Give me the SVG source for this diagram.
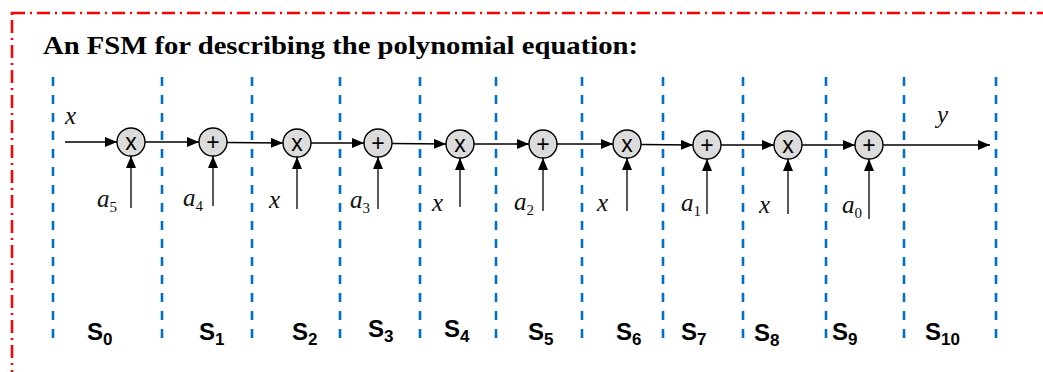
<svg xmlns="http://www.w3.org/2000/svg" width="1043" height="372" viewBox="0 0 1043 372">
<style>
.border{fill:none;stroke:#FF0000;stroke-width:2.5;stroke-dasharray:13 5 2 5}
.sep{stroke:#0070C0;stroke-width:2.6;stroke-dasharray:9 9}
.op{fill:#DCDCDC;stroke:#000;stroke-width:1.4}
.sym{font-family:"Liberation Sans",Arial,sans-serif;font-size:23px;text-anchor:middle;fill:#000}
.wire{stroke:#000;stroke-width:1.3;fill:none}
.var{font-family:"Liberation Serif","Times New Roman",serif;font-style:italic;font-size:25px;fill:#111}
.sub{font-size:15px;font-style:normal}
.st{font-family:"Liberation Sans",Arial,sans-serif;font-weight:bold;font-size:24px;fill:#000}
.stsub{font-size:17px}
.title{font-family:"Liberation Serif","Times New Roman",serif;font-weight:bold;font-size:25px;fill:#000}
</style>
<defs>
<marker id="ah" viewBox="0 0 12 10" refX="12" refY="5" markerWidth="12" markerHeight="10" markerUnits="userSpaceOnUse" orient="auto">
<path d="M0,0 L12,5 L0,10 Z" fill="#000"/>
</marker>
</defs>
<rect class="border" x="12" y="13" width="1060" height="400"/>
<text class="title" x="43" y="54" textLength="595" lengthAdjust="spacingAndGlyphs">An FSM for describing the polynomial equation:</text>
<g id="separators">
<line class="sep" x1="53" y1="77" x2="53" y2="344"/>
<line class="sep" x1="162" y1="77" x2="162" y2="344"/>
<line class="sep" x1="252" y1="77" x2="252" y2="344"/>
<line class="sep" x1="340" y1="77" x2="340" y2="344"/>
<line class="sep" x1="420" y1="77" x2="420" y2="344"/>
<line class="sep" x1="496" y1="77" x2="496" y2="344"/>
<line class="sep" x1="582" y1="77" x2="582" y2="344"/>
<line class="sep" x1="663" y1="77" x2="663" y2="344"/>
<line class="sep" x1="743" y1="77" x2="743" y2="344"/>
<line class="sep" x1="826" y1="77" x2="826" y2="344"/>
<line class="sep" x1="904" y1="77" x2="904" y2="344"/>
<line class="sep" x1="996" y1="77" x2="996" y2="344"/>
</g>
<g id="connectors">
<line class="wire" x1="65" y1="142" x2="117" y2="142" marker-end="url(#ah)"/>
<line class="wire" x1="145" y1="142" x2="199" y2="142" marker-end="url(#ah)"/>
<line class="wire" x1="227" y1="142.5" x2="283" y2="143" marker-end="url(#ah)"/>
<line class="wire" x1="311" y1="143" x2="364" y2="143" marker-end="url(#ah)"/>
<line class="wire" x1="392" y1="143.5" x2="446" y2="144" marker-end="url(#ah)"/>
<line class="wire" x1="474" y1="144" x2="529" y2="144" marker-end="url(#ah)"/>
<line class="wire" x1="557" y1="144" x2="613" y2="144" marker-end="url(#ah)"/>
<line class="wire" x1="641" y1="144.5" x2="693" y2="145" marker-end="url(#ah)"/>
<line class="wire" x1="721" y1="145" x2="774" y2="145" marker-end="url(#ah)"/>
<line class="wire" x1="802" y1="145" x2="855" y2="145" marker-end="url(#ah)"/>
<line class="wire" x1="883" y1="145" x2="990" y2="145" marker-end="url(#ah)"/>
<line class="wire" x1="131" y1="208" x2="131" y2="156" marker-end="url(#ah)"/>
<line class="wire" x1="213" y1="206" x2="213" y2="156" marker-end="url(#ah)"/>
<line class="wire" x1="297" y1="209" x2="297" y2="157" marker-end="url(#ah)"/>
<line class="wire" x1="378" y1="209" x2="378" y2="157" marker-end="url(#ah)"/>
<line class="wire" x1="460" y1="207" x2="460" y2="158" marker-end="url(#ah)"/>
<line class="wire" x1="543" y1="211" x2="543" y2="158" marker-end="url(#ah)"/>
<line class="wire" x1="627" y1="211" x2="627" y2="158" marker-end="url(#ah)"/>
<line class="wire" x1="707" y1="214" x2="707" y2="159" marker-end="url(#ah)"/>
<line class="wire" x1="788" y1="214" x2="788" y2="159" marker-end="url(#ah)"/>
<line class="wire" x1="869" y1="219" x2="869" y2="159" marker-end="url(#ah)"/>
</g>
<g id="n1"><circle class="op" cx="131" cy="142" r="14"/><text class="sym" x="131" y="150">x</text></g>
<g id="n2"><circle class="op" cx="213" cy="142" r="14"/><text class="sym" x="213" y="150">+</text></g>
<g id="n3"><circle class="op" cx="297" cy="143" r="14"/><text class="sym" x="297" y="151">x</text></g>
<g id="n4"><circle class="op" cx="378" cy="143" r="14"/><text class="sym" x="378" y="151">+</text></g>
<g id="n5"><circle class="op" cx="460" cy="144" r="14"/><text class="sym" x="460" y="152">x</text></g>
<g id="n6"><circle class="op" cx="543" cy="144" r="14"/><text class="sym" x="543" y="152">+</text></g>
<g id="n7"><circle class="op" cx="627" cy="144" r="14"/><text class="sym" x="627" y="152">x</text></g>
<g id="n8"><circle class="op" cx="707" cy="145" r="14"/><text class="sym" x="707" y="153">+</text></g>
<g id="n9"><circle class="op" cx="788" cy="145" r="14"/><text class="sym" x="788" y="153">x</text></g>
<g id="n10"><circle class="op" cx="869" cy="145" r="14"/><text class="sym" x="869" y="153">+</text></g>
<g id="labels">
<text class="var" x="65" y="124">x</text>
<text class="var" x="937" y="123">y</text>
<text class="var" x="97" y="207">a<tspan class="sub" dy="5">5</tspan></text>
<text class="var" x="183" y="206">a<tspan class="sub" dy="5">4</tspan></text>
<text class="var" x="269" y="208">x</text>
<text class="var" x="350" y="208">a<tspan class="sub" dy="5">3</tspan></text>
<text class="var" x="432" y="211">x</text>
<text class="var" x="514" y="210">a<tspan class="sub" dy="5">2</tspan></text>
<text class="var" x="597" y="211">x</text>
<text class="var" x="681" y="211">a<tspan class="sub" dy="5">1</tspan></text>
<text class="var" x="759" y="213">x</text>
<text class="var" x="842" y="213">a<tspan class="sub" dy="5">0</tspan></text>
</g>
<g id="states">
<text class="st" x="87" y="340">S<tspan class="stsub" dy="5">0</tspan></text>
<text class="st" x="199" y="340">S<tspan class="stsub" dy="5">1</tspan></text>
<text class="st" x="292" y="340">S<tspan class="stsub" dy="5">2</tspan></text>
<text class="st" x="368" y="337">S<tspan class="stsub" dy="5">3</tspan></text>
<text class="st" x="444" y="337">S<tspan class="stsub" dy="5">4</tspan></text>
<text class="st" x="528" y="340">S<tspan class="stsub" dy="5">5</tspan></text>
<text class="st" x="616" y="340">S<tspan class="stsub" dy="5">6</tspan></text>
<text class="st" x="681" y="340">S<tspan class="stsub" dy="5">7</tspan></text>
<text class="st" x="754" y="341">S<tspan class="stsub" dy="5">8</tspan></text>
<text class="st" x="832" y="340">S<tspan class="stsub" dy="5">9</tspan></text>
<text class="st" x="925" y="340">S<tspan class="stsub" dy="5">10</tspan></text>
</g>
</svg>
